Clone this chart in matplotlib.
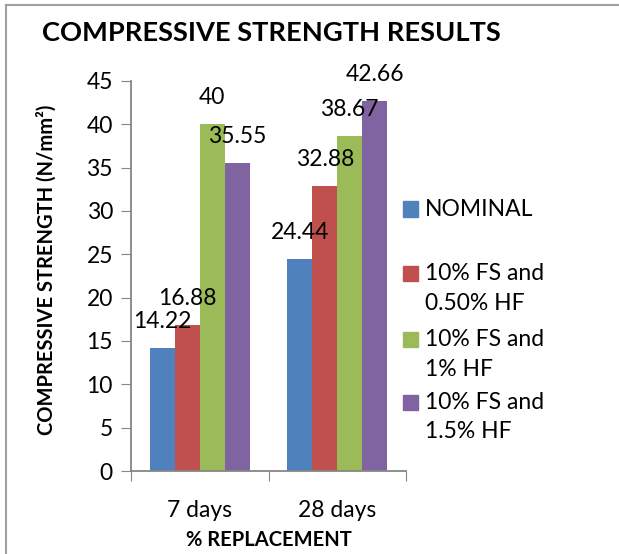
import matplotlib.pyplot as plt
import numpy as np
from matplotlib.patches import Rectangle
from matplotlib.lines import Line2D

plt.rcParams['font.family'] = ['Lato', 'DejaVu Sans']

# data
categories = ['7 days', '28 days']
series = ['NOMINAL', '10% FS and\n0.50% HF', '10% FS and\n1% HF', '10% FS and\n1.5% HF']
values = [
    [14.22, 24.44],
    [16.88, 32.88],
    [40, 38.67],
    [35.55, 42.66],
]
labels = [['14.22', '24.44'], ['16.88', '32.88'], ['40', '38.67'], ['35.55', '42.66']]
colors = ['#4F81BD', '#C0504D', '#9BBB59', '#8064A2']
yticks = [0, 5, 10, 15, 20, 25, 30, 35, 40, 45]

W, H = 619, 554
fig = plt.figure(figsize=(W / 100, H / 100), dpi=100)
ax = fig.add_axes([131 / W, 1 - 471 / H, 275 / W, 390 / H])

x = np.arange(len(categories))
bw = 0.182
for i, (vals, c) in enumerate(zip(values, colors)):
    pos = x + (i - 1.5) * bw
    ax.bar(pos, vals, bw, color=c, edgecolor='none')
    for p, v, t in zip(pos, vals, labels[i]):
        ax.annotate(t, (p, v), xytext=(0, 14.5), textcoords='offset points',
                    ha='center', va='baseline', fontsize=16.5)

ax.set_xlim(-0.5, 1.5)
ax.set_ylim(0, 45)
ax.set_yticks(yticks)
ax.set_xticks([-0.5, 0.5, 1.5])
ax.set_xticklabels([])
ax.set_xticks(x, minor=True)
ax.set_xticklabels(categories, minor=True)
ax.tick_params(axis='x', which='minor', length=0, pad=21, labelsize=16.5)
ax.tick_params(axis='x', which='major', length=7, color='#868686')
ax.tick_params(axis='y', length=7, color='#868686', pad=6, labelsize=16.5)
for s in ['top', 'right']:
    ax.spines[s].set_visible(False)
for s in ['left', 'bottom']:
    ax.spines[s].set_color('#868686')
    ax.spines[s].set_linewidth(1.3)

ax.set_xlabel('% REPLACEMENT', fontsize=14.5, fontweight='bold', labelpad=6.5)
ax.set_ylabel('COMPRESSIVE STRENGTH (N/mm²)', fontsize=14.5, fontweight='bold')
ax.yaxis.set_label_coords((57 - 131) / 275, (471 - 270) / 390)

fig.text(42 / W, 1 - 33 / H, 'COMPRESSIVE STRENGTH RESULTS', fontsize=19.6,
         fontweight='bold', ha='left', va='center')

# legend (square next to first line of each entry)
ly = [209, 273, 339, 402]
for name, c, y in zip(series, colors, ly):
    fig.add_artist(Rectangle((403 / W, 1 - (y + 7.5) / H), 15 / W, 15 / H,
                             transform=fig.transFigure, color=c))
    fig.text(425 / W, 1 - (y - 10) / H, name, fontsize=16.5, ha='left',
             va='top', linespacing=1.5)

# outer border (only top and left visible)
fig.add_artist(Line2D([6 / W, 6 / W], [0, 1 - 5 / H], color='#a0a0a0', lw=1.5))
fig.add_artist(Line2D([6 / W, 1], [1 - 5 / H, 1 - 5 / H], color='#a0a0a0', lw=1.5))

fig.savefig('out.png', dpi=100)
